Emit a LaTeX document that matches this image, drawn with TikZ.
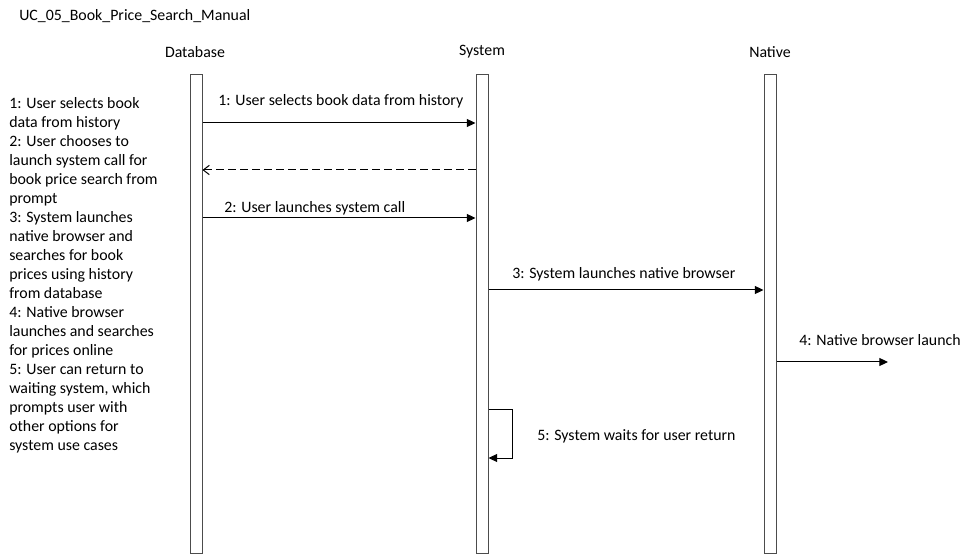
\documentclass[tikz,border=0pt]{standalone}
\usepackage{fontspec}
\setmainfont{Carlito}
\usepackage{tikz}
\usetikzlibrary{arrows.meta,positioning}

\tikzset{
  bar/.style={draw=black!70,fill=white,line width=0.75pt,minimum width=9pt,minimum height=358.5pt,inner sep=0pt},
  msg/.style={line width=0.75pt,-{Triangle[length=6.5pt,width=6pt]}},
  reply/.style={line width=0.75pt,dashed,dash pattern=on 6pt off 3pt,-{Straight Barb[length=4.5pt,width=7pt]}},
  lbl/.style={anchor=west,inner sep=0pt}
}

\begin{document}
\begin{tikzpicture}[x=0.75pt,y=-0.75pt,font=\fontsize{11.9}{14.25}\selectfont]
		\useasboundingbox (0,0) rectangle (970,555);
		\node[lbl] (title) at (19,16) {UC\_05\_Book\_Price\_Search\_Manual};
		%
		\node (db) at (195,52) {Database};
		\node (sys) at (482,52) {System};
		\node (nat) at (770,52) {Native};
		\node[bar] (dbbar) at (196,314) {};
		\node[bar] (sysbar) at (482,314) {};
		\node[bar] (natbar) at (770,314) {};
		%
		\node[anchor=north west,inner sep=0pt,align=left] (notes) at (9,97) {1: User selects book\\ data from history\\ 2: User chooses to\\ launch system call for\\ book price search from\\ prompt\\ 3: System launches\\ native browser and\\ searches for book\\ prices using history\\ from database\\ 4: Native browser\\ launches and searches\\ for prices online\\ 5: User can return to\\ waiting system, which\\ prompts user with\\ other options for\\ system use cases};
		%
		\coordinate (m1) at (0,123);
		\coordinate (m2) at (0,170);
		\coordinate (m3) at (0,218);
		\coordinate (m4) at (0,290);
		\coordinate (m5) at (0,362);
		\coordinate (m6) at (0,410);
		\coordinate (m6b) at (0,458);
		\coordinate (out) at (888,362);
		\coordinate (loopa) at (512,410);
		\coordinate (loopb) at (512,458);
		%
		\draw[msg] (dbbar.east |- m1) -- (sysbar.west |- m1);
		\draw[reply] (sysbar.west |- m2) -- (dbbar.east |- m2);
		\draw[msg] (dbbar.east |- m3) -- (sysbar.west |- m3);
		\draw[msg] (sysbar.east |- m4) -- (natbar.west |- m4);
		\draw[msg] (natbar.east |- m5) -- (out);
		\draw[msg] (sysbar.east |- m6) -- (loopa) -- (loopb) -- (sysbar.east |- m6b);
		%
		\node[lbl] (l1) at (218,101) {1: User selects book data from history};
		\node[lbl] (l2) at (224,208) {2: User launches system call};
		\node[lbl] (l3) at (512,274) {3: System launches native browser};
		\node[lbl] (l4) at (799,340) {4: Native browser launch};
		\node[lbl] (l5) at (537,436) {5: System waits for user return};
\end{tikzpicture}
\end{document}
